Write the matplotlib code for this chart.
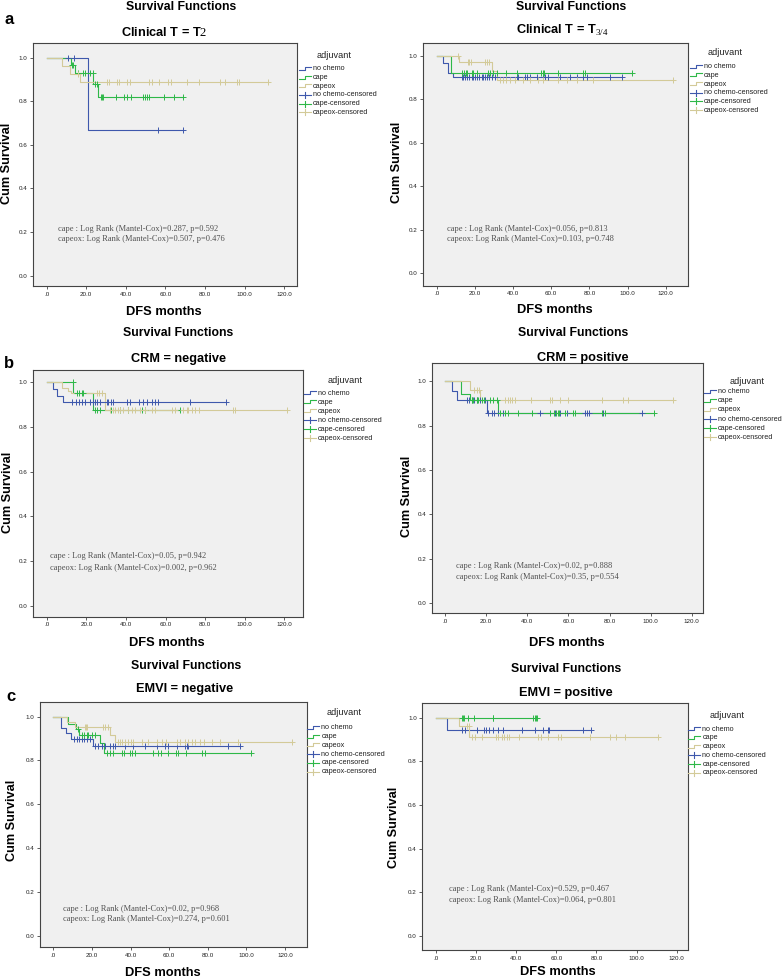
import numpy as np
import matplotlib
matplotlib.use("Agg")
import matplotlib.pyplot as plt
from matplotlib.lines import Line2D

W, H = 784, 980

BLUE = "#3e58ac"
GREEN = "#2eb848"
TAN = "#d3ca98"
FACE = "#f0f0f0"
COLORS = [BLUE, GREEN, TAN]

GROUPS = ["no chemo", "cape", "capeox"]
XTICKS = [0, 20, 40, 60, 80, 100, 120]
XTICK_LABELS = [".0", "20.0", "40.0", "60.0", "80.0", "100.0", "120.0"]
YTICKS = [0.0, 0.2, 0.4, 0.6, 0.8, 1.0]
YTICK_LABELS = ["0.0", "0.2", "0.4", "0.6", "0.8", "1.0"]

# each group: (event times, survival after each event, censored times)
# a, left: Clinical T = T2
t2_nochemo = ([21.0], [0.667], [10.9, 13.9, 56.4, 68.7])
t2_cape = ([12.1, 14.2, 23.6, 26.1], [0.966, 0.931, 0.878, 0.818],
           [12.6, 13.4, 16.0, 18.2, 19.3, 21.9, 23.2, 24.4, 25.6, 27.3, 28.1, 28.6,
            35.0, 39.0, 40.7, 42.4, 48.8, 49.8, 50.8, 51.5, 59.2, 64.3, 69.0])
t2_capeox = ([7.8, 12.0, 16.8], [0.963, 0.926, 0.889],
             [16.0, 30.3, 31.5, 35.3, 36.5, 40.7, 42.1, 51.8, 53.2, 56.9, 61.3, 62.6,
              71.0, 77.1, 87.5, 90.2, 96.0, 97.3, 111.9])

# a, right: Clinical T = T3/4
t34_nochemo = ([3.5, 5.8, 8.7], [0.966, 0.92, 0.902],
               [13.1, 14.0, 14.8, 16.0, 17.1, 18.3, 19.2, 20.1, 21.0, 22.3, 23.6, 24.4,
                25.3, 26.5, 27.6, 28.8, 30.6, 41.9, 42.8, 46.3, 47.2, 48.9, 52.4, 55.9,
                56.8, 58.5, 64.6, 69.9, 73.4, 76.8, 78.6, 90.8, 97.0])
t34_cape = ([7.5], [0.92],
            [13.4, 14.5, 15.4, 16.0, 18.3, 19.2, 21.0, 27.0, 27.9, 29.7, 31.4, 36.3,
             42.2, 54.7, 55.6, 56.4, 63.4, 76.8, 77.7, 102.4])
t34_capeox = ([11.7, 28.8, 31.4], [0.97, 0.93, 0.888],
              [11.3, 16.2, 17.1, 17.8, 25.3, 26.2, 27.6, 33.2, 34.9, 36.3, 38.4, 41.0,
               45.4, 48.9, 53.2, 55.9, 63.7, 68.1, 73.4, 81.8, 123.7])

# b, left: CRM = negative
crmn_nochemo = ([3.4, 5.4, 8.1], [0.97, 0.94, 0.91],
                [12.6, 14.8, 16.5, 17.7, 19.4, 21.9, 23.2, 24.4, 25.6, 26.9, 30.3, 31.1,
                 32.3, 33.6, 40.7, 42.1, 46.8, 48.8, 50.8, 53.0, 54.7, 56.4, 72.4, 90.5])
crmn_cape = ([13.4, 23.2], [0.951, 0.877],
             [13.2, 15.5, 16.5, 17.7, 18.5, 24.5, 25.5, 27.0, 32.5, 37.0, 41.0, 48.0,
              49.5, 67.3])
crmn_capeox = ([7.5, 10.5, 12.0, 29.3], [0.976, 0.963, 0.951, 0.877],
               [25.3, 26.6, 27.8, 32.0, 33.3, 34.5, 36.2, 37.0, 38.7, 41.2, 42.9, 44.6,
                47.1, 49.6, 53.0, 54.7, 63.1, 64.8, 69.0, 70.7, 71.5, 73.2, 74.9, 77.1,
                93.9, 95.1, 121.5])

# b, right: CRM = positive
crmp_nochemo = ([3.6, 5.7, 20.3], [0.957, 0.914, 0.856],
                [10.5, 11.4, 13.0, 14.3, 15.4, 17.0, 19.5, 21.1, 22.7, 24.0, 25.9, 28.4,
                 46.2, 53.5, 55.9, 59.2, 68.1, 68.9, 70.0, 77.0, 95.7])
crmp_cape = ([7.8, 12.2, 25.9], [0.943, 0.914, 0.856],
             [13.0, 13.8, 15.4, 16.2, 17.8, 19.1, 21.9, 23.5, 25.1, 26.8, 29.2, 30.5,
              35.7, 42.2, 51.1, 52.8, 53.9, 54.9, 55.6, 58.5, 62.4, 63.2, 76.2, 77.8,
              101.8])
crmp_capeox = ([12.0, 17.0], [0.958, 0.916],
               [14.3, 15.4, 16.5, 29.2, 30.5, 31.6, 32.7, 34.0, 41.8, 51.1, 52.2, 55.9,
                60.0, 76.2, 86.7, 89.2, 111.0])

# c, left: EMVI = negative
emvin_nochemo = ([4.0, 6.4, 9.0, 20.7], [0.95, 0.925, 0.9, 0.867],
                 [10.9, 12.1, 13.3, 14.7, 16.1, 17.3, 19.0, 21.6, 23.3, 25.1, 26.8, 29.4,
                  31.1, 32.0, 37.2, 41.5, 47.5, 53.6, 57.9, 59.6, 63.9, 68.3, 69.1, 69.9,
                  90.7, 96.7])
emvin_cape = ([7.8, 11.5, 13.5, 24.2, 26.4], [0.965, 0.945, 0.916, 0.878, 0.836],
              [12.9, 14.7, 16.1, 17.3, 18.1, 19.9, 21.6, 27.7, 29.4, 31.1, 35.4, 36.8,
               39.7, 40.9, 42.3, 51.8, 54.4, 55.8, 59.6, 63.6, 64.5, 68.6, 76.9, 78.6,
               102.3])
emvin_capeox = ([7.0, 11.0, 29.4, 32.0], [0.977, 0.954, 0.916, 0.883],
                [16.4, 16.8, 17.2, 25.9, 26.8, 28.2, 33.4, 34.6, 35.8, 37.2, 38.5, 40.3,
                 41.5, 45.8, 48.9, 53.6, 56.2, 58.2, 63.9, 65.6, 68.2, 69.6, 71.7, 73.4,
                 76.0, 78.2, 82.0, 86.4, 95.6, 123.5])

# c, right: EMVI = positive
emvip_nochemo = ([5.6], [0.944],
                 [12.8, 14.5, 20.3, 23.9, 24.9, 26.6, 28.6, 30.8, 33.5, 42.7, 49.4, 53.2,
                  56.0, 56.5, 73.1, 77.1])
emvip_cape = ([], [],
              [13.1, 13.6, 14.1, 16.1, 19.1, 28.3, 28.6, 48.5, 49.2, 49.8, 50.5])
emvip_capeox = ([11.6, 16.6], [0.962, 0.913],
                [15.3, 16.3, 17.8, 19.4, 22.8, 29.9, 31.1, 32.8, 33.9, 35.2, 36.6, 41.5,
                 51.0, 52.2, 56.0, 61.0, 62.3, 76.7, 86.6, 89.6, 94.2, 110.8])

STATS = [
    ("cape : Log Rank (Mantel-Cox)=0.287, p=0.592", "capeox: Log Rank (Mantel-Cox)=0.507, p=0.476"),
    ("cape : Log Rank (Mantel-Cox)=0.056, p=0.813", "capeox: Log Rank (Mantel-Cox)=0.103, p=0.748"),
    ("cape : Log Rank (Mantel-Cox)=0.05, p=0.942", "capeox: Log Rank (Mantel-Cox)=0.002, p=0.962"),
    ("cape : Log Rank (Mantel-Cox)=0.02, p=0.888", "capeox: Log Rank (Mantel-Cox)=0.35, p=0.554"),
    ("cape : Log Rank (Mantel-Cox)=0.02, p=0.968", "capeox: Log Rank (Mantel-Cox)=0.274, p=0.601"),
    ("cape : Log Rank (Mantel-Cox)=0.529, p=0.467", "capeox: Log Rank (Mantel-Cox)=0.064, p=0.801"),
]
SUBTITLES = ["Clinical T = T$\\mathrm{2}$", "Clinical T = T$_{\\mathrm{3/4}}$",
             "CRM = negative", "CRM = positive", "EMVI = negative", "EMVI = positive"]

# layout in pixels
PANELS = [
    dict(data=(t2_nochemo, t2_cape, t2_capeox), box=(33, 43, 297, 286),
         xlim=(-6.9, 126.4), ylim=(-0.047, 1.067), sf=(181, 7), sub=(164, 32),
         xl=(164, 312), yl=(7, 163), leg=(299, 334, 55, 69, 8.65), st=(5.9, 0.213, 0.167)),
    dict(data=(t34_nochemo, t34_cape, t34_capeox), box=(422.7, 42.7, 687.7, 285.7),
         xlim=(-7.3, 131.5), ylim=(-0.057, 1.06), sf=(571, 7), sub=(562, 30),
         xl=(555, 310), yl=(397, 162), leg=(690, 725, 52.3, 66.7, 8.7), st=(5.6, 0.202, 0.156)),
    dict(data=(crmn_nochemo, crmn_cape, crmn_capeox), box=(32.7, 370, 303.3, 616.7),
         xlim=(-7.1, 129.6), ylim=(-0.049, 1.055), sf=(178, 333), sub=(179, 359),
         xl=(167, 643), yl=(8, 492), leg=(304, 345, 380, 393.3, 9.0), st=(1.7, 0.222, 0.167)),
    dict(data=(crmp_nochemo, crmp_cape, crmp_capeox), box=(431.7, 363.3, 703.3, 613.3),
         xlim=(-6.5, 125.6), ylim=(-0.045, 1.08), sf=(573, 333), sub=(583, 358),
         xl=(567, 643), yl=(407, 496), leg=(704, 747.5, 381, 391.7, 9.1), st=(5.2, 0.168, 0.12)),
    dict(data=(emvin_nochemo, emvin_cape, emvin_capeox), box=(40, 701.7, 307.3, 947.3),
         xlim=(-6.9, 131.6), ylim=(-0.053, 1.068), sf=(186, 666), sub=(184.5, 689),
         xl=(163, 973), yl=(12.5, 820), leg=(307.3, 344, 712.7, 727.7, 8.8), st=(5.2, 0.12, 0.075)),
    dict(data=(emvip_nochemo, emvip_cape, emvip_capeox), box=(422.3, 702.7, 687.7, 950),
         xlim=(-6.9, 125.5), ylim=(-0.064, 1.069), sf=(566, 669), sub=(566, 693),
         xl=(558, 972), yl=(394, 827), leg=(688.3, 727.5, 715, 729, 8.75), st=(6.6, 0.214, 0.165)),
]
LETTERS = [("a", 9, 20), ("b", 9, 363), ("c", 11, 696)]

plt.rcParams['font.family'] = ['Liberation Sans', 'DejaVu Sans']
plt.rcParams['mathtext.fontset'] = 'custom'
plt.rcParams['mathtext.rm'] = 'Liberation Serif'


def step_curve(events, surv, cens):
    end = max(list(cens) + list(events))
    xs = [0.0] + list(events) + [end]
    levels = [1.0] + list(surv)
    ys = levels + [levels[-1]]
    idx = np.searchsorted(np.array(events, dtype=float), cens, side='right')
    cy = np.array(levels)[idx]
    return xs, ys, cy


fig = plt.figure(figsize=(W / 100, H / 100), dpi=100)

for i, p in enumerate(PANELS):
    x0, y0, x1, y1 = p["box"]
    ax = fig.add_axes([x0 / W, 1 - y1 / H, (x1 - x0) / W, (y1 - y0) / H])
    ax.set_facecolor(FACE)
    curves = [step_curve(*g) for g in p["data"]]
    for (xs, ys, cy), c in zip(curves, COLORS):
        ax.step(xs, ys, where='post', color=c, lw=0.8)
    for g, (xs, ys, cy), c in zip(p["data"], curves, COLORS):
        ax.plot(g[2], cy, ls='none', marker='+', ms=4, mew=0.7, color=c)
    ax.set_xlim(*p["xlim"])
    ax.set_ylim(*p["ylim"])
    ax.set_xticks(XTICKS)
    ax.set_xticklabels(XTICK_LABELS)
    ax.set_yticks(YTICKS)
    ax.set_yticklabels(YTICK_LABELS)
    ax.tick_params(labelsize=4.5, length=2.5, width=0.6, color="#444444",
                   labelcolor="#222222", pad=1.5)
    for s in ax.spines.values():
        s.set_color("#444444")
        s.set_linewidth(0.8)
    sx, s1, s2 = p["st"]
    ax.text(sx, s1, STATS[i][0], family=['Liberation Serif'], fontsize=6,
            color="#505050", va='center')
    ax.text(sx, s2, STATS[i][1], family=['Liberation Serif'], fontsize=6,
            color="#505050", va='center')

# overlay in pixel coordinates for titles, labels and legends
ov = fig.add_axes([0, 0, 1, 1], facecolor='none')
ov.set_xlim(0, W)
ov.set_ylim(H, 0)
ov.axis('off')

for i, p in enumerate(PANELS):
    ov.text(*p["sf"], "Survival Functions", fontsize=8.8, fontweight='bold',
            ha='center', va='center')
    ov.text(*p["sub"], SUBTITLES[i], fontsize=9.2, fontweight='bold',
            ha='center', va='center')
    ov.text(*p["xl"], "DFS months", fontsize=9.3, fontweight='bold',
            ha='center', va='center')
    ov.text(*p["yl"], "Cum Survival", fontsize=9.2, fontweight='bold',
            ha='center', va='center', rotation=90)
    ix, ax_, ay, r0, dy = p["leg"]
    ov.text(ax_, ay, "adjuvant", fontsize=6.6, ha='center', va='center', color="#222222")
    labels = GROUPS + [g + "-censored" for g in GROUPS]
    for k, lab in enumerate(labels):
        ry = r0 + k * dy
        c = COLORS[k % 3]
        if k < 3:
            ov.add_line(Line2D([ix, ix + 5.8, ix + 5.8, ix + 12], [ry + 1, ry + 1, ry - 2, ry - 2],
                               color=c, lw=0.8))
        else:
            ov.add_line(Line2D([ix, ix + 12], [ry, ry], color=c, lw=0.8))
            ov.add_line(Line2D([ix + 6, ix + 6], [ry - 3, ry + 3], color=c, lw=0.8))
        ov.text(ix + 14, ry, lab, fontsize=5.2, va='center', color="#222222")

for t, x, y in LETTERS:
    ov.text(x, y, t, fontsize=12, fontweight='bold', ha='center', va='center')

fig.savefig("out.png", dpi=100, facecolor='white')
